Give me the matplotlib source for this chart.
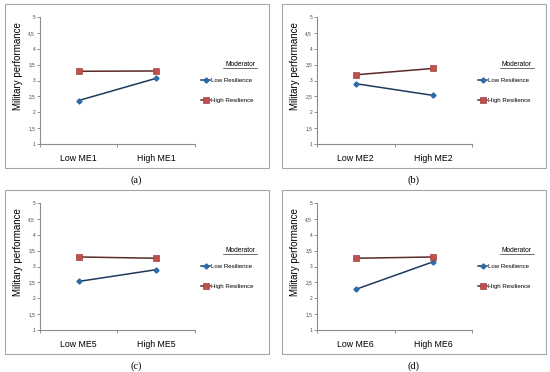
import matplotlib
matplotlib.use("Agg")
from matplotlib import pyplot as plt
from matplotlib.patches import Rectangle
from matplotlib.lines import Line2D

W, H = 550, 372

categories = [["Low ME1", "High ME1"], ["Low ME2", "High ME2"],
              ["Low ME5", "High ME5"], ["Low ME6", "High ME6"]]
low_res = [[2.37, 3.07], [2.90, 2.53], [2.53, 2.90], [2.28, 3.15]]
high_res = [[3.29, 3.30], [3.18, 3.38], [3.30, 3.26], [3.26, 3.30]]
captions = ["(a)", "(b)", "(c)", "(d)"]
yticks = [1, 1.5, 2, 2.5, 3, 3.5, 4, 4.5, 5]
ytick_labels = ["1", "1,5", "2", "2,5", "3", "3,5", "4", "4,5", "5"]

origins = [(0, 0), (277, 0), (0, 186), (277, 186)]

plt.rcParams['font.family'] = ['Liberation Sans', 'DejaVu Sans']

fig = plt.figure(figsize=(W/100, H/100), dpi=100)
fig.patch.set_facecolor('white')


def fx(x):
	return x/W


def fy(y):
	return 1 - y/H


for i in range(4):
	ox, oy = origins[i]

	# panel frame
	fig.add_artist(Rectangle((fx(ox+5), fy(oy+168)), 264/W, 164/H, transform=fig.transFigure,
		facecolor='none', edgecolor='#a6a6a6', lw=0.8))

	ax = fig.add_axes([fx(ox+40), fy(oy+144), 155/W, 127/H])
	xs = [0.5, 1.5]
	ax.plot(xs, low_res[i], '-', color='#1f3a5f', lw=1.1, marker='D', ms=2.6,
		mfc='#2e6aa8', mec='#2e6aa8', label='Low Resilience')
	ax.plot(xs, high_res[i], '-', color='#5c2a2a', lw=1.1, marker='s', ms=3.8,
		mfc='#c0504d', mec='#a04040', mew=0.5, label='High Resilience')

	ax.set_xlim(0, 2)
	ax.set_ylim(1, 5)
	ax.set_xticks([0, 1, 2])
	ax.set_xticklabels([])
	ax.set_xticks(xs, minor=True)
	ax.set_xticklabels(categories[i], minor=True, fontsize=6.3)
	ax.tick_params(axis='x', which='minor', length=0, pad=7)
	ax.tick_params(axis='x', which='major', length=2.5, width=0.6, color='#808080')
	ax.set_yticks(yticks)
	ax.set_yticklabels(ytick_labels, fontsize=3.4, color='#404040')
	ax.tick_params(axis='y', length=2, width=0.6, color='#808080', pad=1.5)
	for s in ['top', 'right']:
		ax.spines[s].set_visible(False)
	for s in ['left', 'bottom']:
		ax.spines[s].set_color('#8c8c8c')
		ax.spines[s].set_linewidth(0.8)
	ax.patch.set_alpha(0)

	fig.text(fx(ox+18), fy(oy+66), "Military performance", rotation=90,
		ha='center', va='center', fontsize=7)

	# legend
	fig.text(fx(ox+240), fy(oy+64), "Moderator", ha='center', va='center', fontsize=4.8)
	fig.add_artist(Line2D([fx(ox+223), fx(ox+257)], [fy(oy+67.5), fy(oy+67.5)],
		transform=fig.transFigure, color='black', lw=0.4))
	ax.legend(loc='upper left', bbox_to_anchor=(fx(ox+201), fy(oy+77.5)),
		bbox_transform=fig.transFigure, frameon=False, fontsize=4.4,
		handlelength=1.5, handletextpad=0.1, labelspacing=2.4,
		borderpad=0, borderaxespad=0)

	fig.text(fx(ox+136), fy(oy+180), captions[i], ha='center', va='center',
		fontsize=7.5, family='Liberation Serif')

fig.savefig('out.png', dpi=100)
